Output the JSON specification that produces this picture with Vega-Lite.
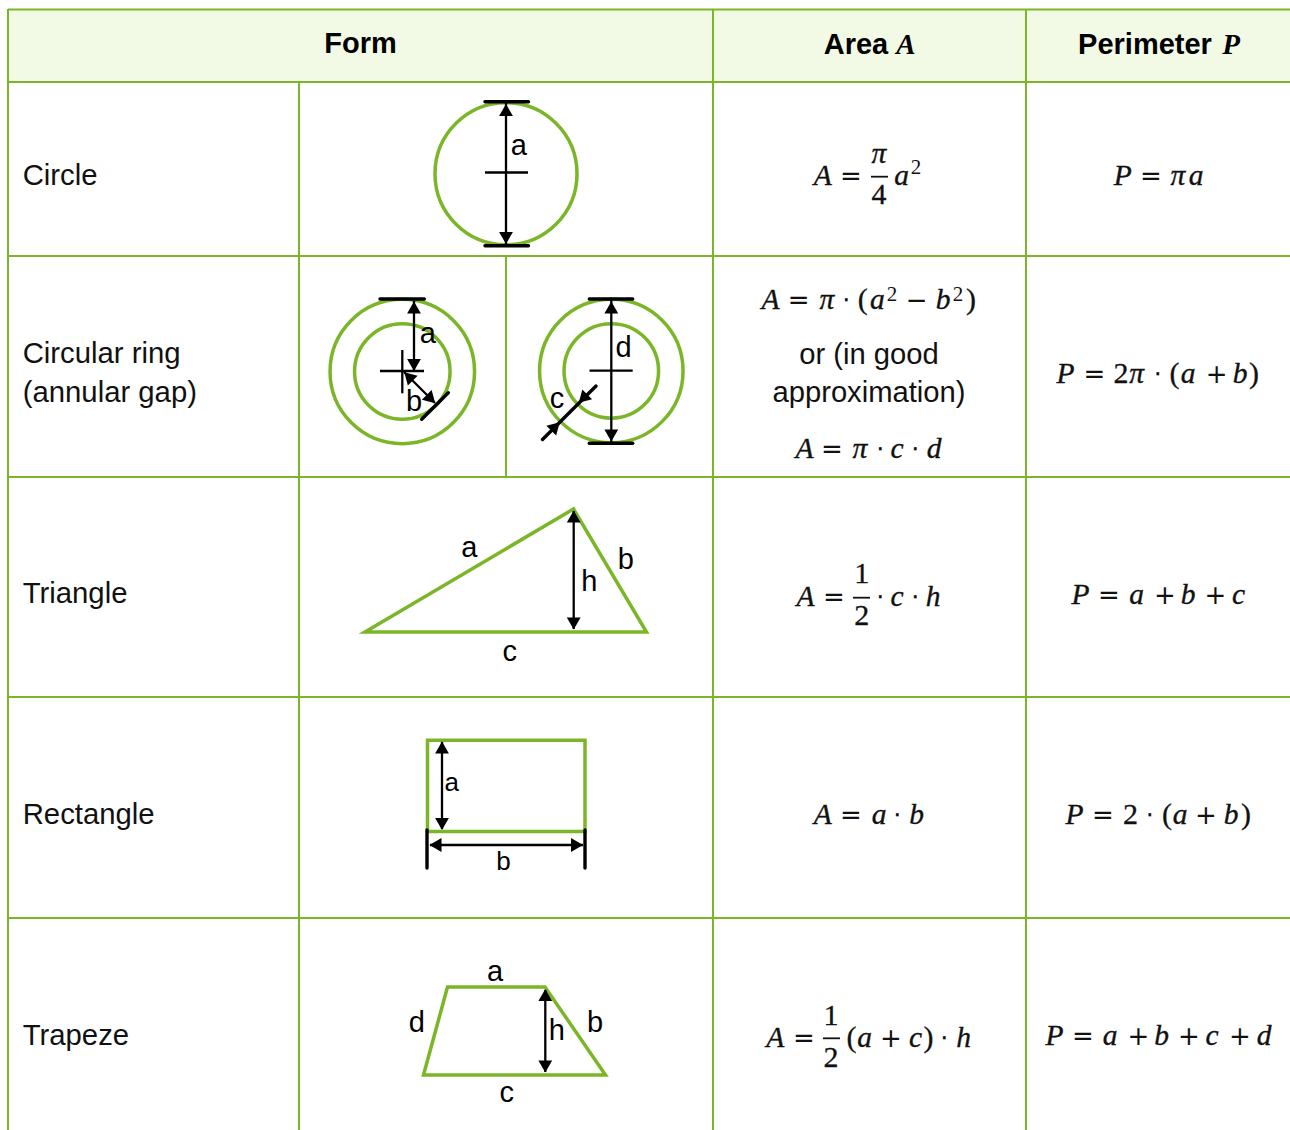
{
"$schema":"https://vega.github.io/schema/vega-lite/v6.json",
"width":1290,"height":1130,"padding":0,"autosize":{"type":"none"},
"background":"white",
"config":{"view":{"stroke":null},"axis":{"domain":false}},
"datasets":{
"headerBand":[{"x":8,"x2":1290,"y":9,"y2":82}],
"grid":[
{"x":8,"x2":1290,"y":9.5,"y2":9.5},{"x":8,"x2":1290,"y":82,"y2":82},{"x":8,"x2":1290,"y":256,"y2":256},{"x":8,"x2":1290,"y":477,"y2":477},{"x":8,"x2":1290,"y":697,"y2":697},{"x":8,"x2":1290,"y":918,"y2":918},
{"x":8,"x2":8,"y":9,"y2":1130},{"x":299,"x2":299,"y":82,"y2":1130},{"x":713,"x2":713,"y":9,"y2":1130},{"x":1026,"x2":1026,"y":9,"y2":1130},{"x":506,"x2":506,"y":256,"y2":477}],
"circles":[{"x":506,"y":173.7,"diameter":142},{"x":402.3,"y":371.5,"diameter":144.5},{"x":402.3,"y":371.5,"diameter":95.5},{"x":611.3,"y":370.9,"diameter":143.5},{"x":611.3,"y":370.9,"diameter":94.5}],
"outlines":[
{"shape":"triangle","order":1,"x":500,"y":632},{"shape":"triangle","order":2,"x":646.5,"y":632},{"shape":"triangle","order":3,"x":573.5,"y":509},{"shape":"triangle","order":4,"x":365,"y":632},{"shape":"triangle","order":5,"x":500,"y":632},
{"shape":"rectangle","order":1,"x":500,"y":740.3},{"shape":"rectangle","order":2,"x":585,"y":740.3},{"shape":"rectangle","order":3,"x":585,"y":831.5},{"shape":"rectangle","order":4,"x":427.5,"y":831.5},{"shape":"rectangle","order":5,"x":427.5,"y":740.3},{"shape":"rectangle","order":6,"x":500,"y":740.3},
{"shape":"trapeze","order":1,"x":500,"y":987},{"shape":"trapeze","order":2,"x":545,"y":987},{"shape":"trapeze","order":3,"x":605.5,"y":1075},{"shape":"trapeze","order":4,"x":423.5,"y":1075},{"shape":"trapeze","order":5,"x":447.5,"y":987},{"shape":"trapeze","order":6,"x":500,"y":987}],
"thick":[
{"x":485,"x2":528.5,"y":101.7,"y2":101.7},{"x":485,"x2":528.5,"y":245.7,"y2":245.7},
{"x":380,"x2":424.3,"y":299,"y2":299},{"x":589.3,"x2":632.7,"y":299,"y2":299},{"x":589.3,"x2":632.7,"y":443.3,"y2":443.3},
{"x":448.3,"x2":421.7,"y":392.7,"y2":419.3},
{"x":427,"x2":427,"y":830,"y2":868},{"x":585,"x2":585,"y":830,"y2":868},
{"x":596,"x2":542.5,"y":386,"y2":439.5}],
"thin":[
{"x":485,"x2":528,"y":172.5,"y2":172.5},{"x":506,"x2":506,"y":103,"y2":244},
{"x":380,"x2":424,"y":371,"y2":371},{"x":402.3,"x2":402.3,"y":350,"y2":393.3},{"x":414,"x2":414,"y":301,"y2":370},{"x":404,"x2":435,"y":372,"y2":403},
{"x":589.5,"x2":632.7,"y":370.7,"y2":370.7},{"x":611.3,"x2":611.3,"y":300,"y2":442},
{"x":573.7,"x2":573.7,"y":511,"y2":629},{"x":442,"x2":442,"y":742,"y2":829},{"x":430,"x2":583,"y":845,"y2":845},{"x":545.3,"x2":545.3,"y":990,"y2":1072}],
"arrowheads":[
{"x":506,"y":110,"direction":"up"},{"x":506,"y":238,"direction":"down"},
{"x":414,"y":307.5,"direction":"up"},{"x":414,"y":365,"direction":"down"},{"x":408.5,"y":376.5,"direction":"nw"},{"x":431,"y":399,"direction":"se"},
{"x":611.3,"y":307.5,"direction":"up"},{"x":611.3,"y":435.5,"direction":"down"},{"x":583,"y":398.5,"direction":"sw"},{"x":555.5,"y":426.5,"direction":"ne"},
{"x":573.7,"y":516.5,"direction":"up"},{"x":573.7,"y":623.5,"direction":"down"},
{"x":442,"y":747.5,"direction":"up"},{"x":442,"y":824,"direction":"down"},{"x":435.5,"y":845,"direction":"left"},{"x":577,"y":845,"direction":"right"},
{"x":545.3,"y":995,"direction":"up"},{"x":545.3,"y":1066.5,"direction":"down"}],
"rowLabels":[{"x":22.7,"y":185,"label":"Circle"},{"x":22.7,"y":363,"label":"Circular ring"},{"x":22.7,"y":402,"label":"(annular gap)"},{"x":22.7,"y":603,"label":"Triangle"},{"x":22.7,"y":824,"label":"Rectangle"},{"x":22.7,"y":1045,"label":"Trapeze"}],
"headers":[{"x":360.5,"y":53,"label":"Form"},{"x":856,"y":54,"label":"Area"},{"x":1145,"y":54,"label":"Perimeter"}],
"headerVars":[{"x":906,"y":54,"label":"A"},{"x":1231,"y":54,"label":"P"}],
"notes":[{"x":869,"y":364,"label":"or (in good"},{"x":869,"y":402,"label":"approximation)"}],
"letters":[{"x":518.7,"y":155,"label":"a"},{"x":427.7,"y":342.5,"label":"a"},{"x":414,"y":411,"label":"b"},{"x":623.5,"y":356.5,"label":"d"},{"x":557,"y":407.5,"label":"c"},{"x":469.3,"y":557,"label":"a"},{"x":625.7,"y":568.5,"label":"b"},{"x":589.3,"y":591,"label":"h"},{"x":509.7,"y":660.5,"label":"c"},{"x":495,"y":980.7,"label":"a"},{"x":595,"y":1031.5,"label":"b"},{"x":416.7,"y":1031.5,"label":"d"},{"x":556.7,"y":1040,"label":"h"},{"x":506.7,"y":1102,"label":"c"}],
"smallLetters":[{"x":451.7,"y":791,"label":"a"},{"x":503.5,"y":870,"label":"b"}],
"mathItalic":[
{"x":822.8,"y":184.8,"label":"A"},{"x":879,"y":162.5,"label":"π"},{"x":901.5,"y":184.8,"label":"a"},
{"x":1122.8,"y":184.8,"label":"P"},{"x":1177.8,"y":184.8,"label":"π"},{"x":1196,"y":184.8,"label":"a"},
{"x":770.5,"y":309.3,"label":"A"},{"x":826.8,"y":309.3,"label":"π"},{"x":877.4,"y":309.3,"label":"a"},{"x":943,"y":309.3,"label":"b"},
{"x":804.5,"y":458,"label":"A"},{"x":860,"y":458,"label":"π"},{"x":897,"y":458,"label":"c"},{"x":934,"y":458,"label":"d"},
{"x":1065.5,"y":383,"label":"P"},{"x":1136.7,"y":383,"label":"π"},{"x":1188,"y":383,"label":"a"},{"x":1240,"y":383,"label":"b"},
{"x":805.5,"y":606,"label":"A"},{"x":897,"y":606,"label":"c"},{"x":933,"y":606,"label":"h"},
{"x":1080.6,"y":604,"label":"P"},{"x":1136.7,"y":604,"label":"a"},{"x":1188,"y":604,"label":"b"},{"x":1238.6,"y":604,"label":"c"},
{"x":822.8,"y":823.7,"label":"A"},{"x":879,"y":823.7,"label":"a"},{"x":916.7,"y":823.7,"label":"b"},
{"x":1074.5,"y":823.7,"label":"P"},{"x":1180,"y":823.7,"label":"a"},{"x":1231,"y":823.7,"label":"b"},
{"x":775.3,"y":1047,"label":"A"},{"x":864.6,"y":1047,"label":"a"},{"x":915.6,"y":1047,"label":"c"},{"x":963.6,"y":1047,"label":"h"},
{"x":1054.5,"y":1045,"label":"P"},{"x":1110,"y":1045,"label":"a"},{"x":1161.6,"y":1045,"label":"b"},{"x":1212,"y":1045,"label":"c"},{"x":1264,"y":1045,"label":"d"}],
"mathUpright":[
{"x":879,"y":204,"label":"4"},
{"x":862.8,"y":309.3,"label":"("},{"x":971,"y":309.3,"label":")"},
{"x":1121,"y":383,"label":"2"},{"x":1174.5,"y":383,"label":"("},{"x":1254,"y":383,"label":")"},
{"x":861.7,"y":583.3,"label":"1"},{"x":861.7,"y":625,"label":"2"},
{"x":1130.5,"y":823.7,"label":"2"},{"x":1167,"y":823.7,"label":"("},{"x":1246,"y":823.7,"label":")"},
{"x":831,"y":1025,"label":"1"},{"x":831,"y":1066.7,"label":"2"},{"x":851.4,"y":1047,"label":"("},{"x":928.4,"y":1047,"label":")"}],
"mathOperators":[
{"x":851,"y":184.8,"label":"="},{"x":1151,"y":184.8,"label":"="},
{"x":798.6,"y":309.3,"label":"="},{"x":846,"y":309.3,"label":"⋅"},{"x":916.7,"y":309.3,"label":"−"},
{"x":832,"y":458,"label":"="},{"x":880,"y":458,"label":"⋅"},{"x":915,"y":458,"label":"⋅"},
{"x":1094.5,"y":383,"label":"="},{"x":1157.6,"y":383,"label":"⋅"},{"x":1216.6,"y":383,"label":"+"},
{"x":834,"y":606,"label":"="},{"x":880,"y":606,"label":"⋅"},{"x":915,"y":606,"label":"⋅"},
{"x":1109,"y":604,"label":"="},{"x":1165,"y":604,"label":"+"},{"x":1215.5,"y":604,"label":"+"},
{"x":851,"y":823.7,"label":"="},{"x":897,"y":823.7,"label":"⋅"},
{"x":1103,"y":823.7,"label":"="},{"x":1149.5,"y":823.7,"label":"⋅"},{"x":1206,"y":823.7,"label":"+"},
{"x":804,"y":1047,"label":"="},{"x":891,"y":1047,"label":"+"},{"x":944,"y":1047,"label":"⋅"},
{"x":1083,"y":1045,"label":"="},{"x":1138.5,"y":1045,"label":"+"},{"x":1188.8,"y":1045,"label":"+"},{"x":1240,"y":1045,"label":"+"}],
"mathSup":[{"x":916,"y":174,"label":"2"},{"x":892,"y":300.5,"label":"2"},{"x":958,"y":300.5,"label":"2"}],
"fractionBars":[{"x":871,"x2":888,"y":176.7,"y2":176.7},{"x":853,"x2":870,"y":597.7,"y2":597.7},{"x":823,"x2":840,"y":1038.3,"y2":1038.3}]
},
"encoding":{
"x":{"field":"x","type":"quantitative","scale":{"domain":[0,1290],"nice":false,"zero":false},"axis":null},
"y":{"field":"y","type":"quantitative","scale":{"domain":[1130,0],"nice":false,"zero":false},"axis":null}
},
"layer":[
{"data":{"name":"headerBand"},"mark":{"type":"rect","color":"#F2FAE6"},"encoding":{"x2":{"field":"x2"},"y2":{"field":"y2"}}},
{"data":{"name":"grid"},"mark":{"type":"rule","color":"#7BB528","strokeWidth":2},"encoding":{"x2":{"field":"x2"},"y2":{"field":"y2"}}},
{"data":{"name":"circles"},"mark":{"type":"point","shape":"circle","filled":false,"color":"#7BB528","strokeWidth":3.5,"opacity":1},"encoding":{"size":{"field":"diameter","type":"quantitative","scale":{"type":"pow","exponent":2,"domain":[0,200],"range":[0,40000]},"legend":null}}},
{"data":{"name":"outlines"},"mark":{"type":"line","color":"#7BB528","strokeWidth":3.5,"strokeJoin":"miter","strokeMiterLimit":10},"encoding":{"detail":{"field":"shape"},"order":{"field":"order","type":"quantitative"}}},
{"data":{"name":"thin"},"mark":{"type":"rule","color":"#000000","strokeWidth":2.3},"encoding":{"x2":{"field":"x2"},"y2":{"field":"y2"}}},
{"data":{"name":"thick"},"mark":{"type":"rule","color":"#000000","strokeWidth":3.4,"strokeCap":"round"},"encoding":{"x2":{"field":"x2"},"y2":{"field":"y2"}}},
{"data":{"name":"arrowheads"},"transform":[{"filter":"datum.direction === 'up'"}],"mark":{"type":"point","shape":"triangle-up","filled":true,"color":"#000000","size":190,"opacity":1,"angle":0}},
{"data":{"name":"arrowheads"},"transform":[{"filter":"datum.direction === 'down'"}],"mark":{"type":"point","shape":"triangle-up","filled":true,"color":"#000000","size":190,"opacity":1,"angle":180}},
{"data":{"name":"arrowheads"},"transform":[{"filter":"datum.direction === 'left'"}],"mark":{"type":"point","shape":"triangle-up","filled":true,"color":"#000000","size":190,"opacity":1,"angle":270}},
{"data":{"name":"arrowheads"},"transform":[{"filter":"datum.direction === 'right'"}],"mark":{"type":"point","shape":"triangle-up","filled":true,"color":"#000000","size":190,"opacity":1,"angle":90}},
{"data":{"name":"arrowheads"},"transform":[{"filter":"datum.direction === 'ne'"}],"mark":{"type":"point","shape":"triangle-up","filled":true,"color":"#000000","size":190,"opacity":1,"angle":45}},
{"data":{"name":"arrowheads"},"transform":[{"filter":"datum.direction === 'se'"}],"mark":{"type":"point","shape":"triangle-up","filled":true,"color":"#000000","size":190,"opacity":1,"angle":135}},
{"data":{"name":"arrowheads"},"transform":[{"filter":"datum.direction === 'sw'"}],"mark":{"type":"point","shape":"triangle-up","filled":true,"color":"#000000","size":190,"opacity":1,"angle":225}},
{"data":{"name":"arrowheads"},"transform":[{"filter":"datum.direction === 'nw'"}],"mark":{"type":"point","shape":"triangle-up","filled":true,"color":"#000000","size":190,"opacity":1,"angle":315}},
{"data":{"name":"rowLabels"},"mark":{"type":"text","align":"left","baseline":"alphabetic","font":"Liberation Sans","fontSize":29.3,"color":"#111111"},"encoding":{"text":{"field":"label"}}},
{"data":{"name":"headers"},"mark":{"type":"text","align":"center","baseline":"alphabetic","font":"Liberation Sans","fontWeight":"bold","fontSize":29,"color":"#000000"},"encoding":{"text":{"field":"label"}}},
{"data":{"name":"headerVars"},"mark":{"type":"text","align":"center","baseline":"alphabetic","font":"Liberation Serif","fontWeight":"bold","fontStyle":"italic","fontSize":29,"color":"#000000"},"encoding":{"text":{"field":"label"}}},
{"data":{"name":"notes"},"mark":{"type":"text","align":"center","baseline":"alphabetic","font":"Liberation Sans","fontSize":29.2,"color":"#111111"},"encoding":{"text":{"field":"label"}}},
{"data":{"name":"letters"},"mark":{"type":"text","align":"center","baseline":"alphabetic","font":"Liberation Sans","fontSize":29,"color":"#000000"},"encoding":{"text":{"field":"label"}}},
{"data":{"name":"smallLetters"},"mark":{"type":"text","align":"center","baseline":"alphabetic","font":"Liberation Sans","fontSize":26,"color":"#000000"},"encoding":{"text":{"field":"label"}}},
{"data":{"name":"mathItalic"},"mark":{"type":"text","align":"center","baseline":"alphabetic","font":"Liberation Serif","fontStyle":"italic","fontSize":29.5,"color":"#111111","stroke":"#111111","strokeWidth":0.35},"encoding":{"text":{"field":"label"}}},
{"data":{"name":"mathUpright"},"mark":{"type":"text","align":"center","baseline":"alphabetic","font":"Liberation Serif","fontSize":30,"color":"#111111","stroke":"#111111","strokeWidth":0.3},"encoding":{"text":{"field":"label"}}},
{"data":{"name":"mathOperators"},"mark":{"type":"text","align":"center","baseline":"alphabetic","font":"DejaVu Sans","fontSize":26,"color":"#111111"},"encoding":{"text":{"field":"label"}}},
{"data":{"name":"mathSup"},"mark":{"type":"text","align":"center","baseline":"alphabetic","font":"Liberation Serif","fontSize":21,"color":"#111111"},"encoding":{"text":{"field":"label"}}},
{"data":{"name":"fractionBars"},"mark":{"type":"rule","color":"#111111","strokeWidth":1.8},"encoding":{"x2":{"field":"x2"},"y2":{"field":"y2"}}}
]
}
